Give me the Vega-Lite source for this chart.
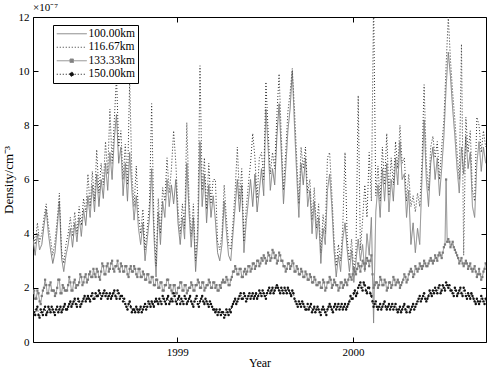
{
  "$schema": "https://vega.github.io/schema/vega-lite/v6.json",
  "width": 453,
  "height": 325,
  "autosize": {"type": "none"},
  "padding": {"left": 33, "top": 17, "right": 10, "bottom": 32},
  "background": "white",
  "config": {
    "view": {"stroke": "black", "strokeWidth": 1},
    "font": "Liberation Serif",
    "axis": {
      "labelFont": "Liberation Serif", "titleFont": "Liberation Serif",
      "labelColor": "black", "titleColor": "black", "tickColor": "black",
      "grid": false, "domain": false, "titleFontWeight": "normal",
      "labelFontSize": 11, "titleFontSize": 12, "tickSize": -5, "labelPadding": 9
    }
  },
  "title": {"text": "×10⁻⁷", "anchor": "start", "frame": "group", "font": "Liberation Serif", "fontSize": 11, "fontWeight": "normal", "color": "black", "offset": -2},
  "data": {"values": [
{"t":1998.18,"a":3.8,"b":4.1,"c":1.8,"d":1.2},
{"t":1998.1925,"a":3.2,"b":3.6,"c":1.6,"d":1.0},
{"t":1998.205,"a":4.0,"b":4.4,"c":1.9,"d":1.3},
{"t":1998.2175,"a":3.4,"b":3.7,"c":1.5,"d":0.9},
{"t":1998.23,"a":3.6,"b":4.0,"c":1.7,"d":1.1},
{"t":1998.2425,"a":4.3,"b":4.6,"c":2.0,"d":1.2},
{"t":1998.255,"a":4.9,"b":5.1,"c":2.1,"d":1.0},
{"t":1998.2675,"a":4.0,"b":4.3,"c":1.8,"d":1.3},
{"t":1998.28,"a":3.4,"b":3.8,"c":2.2,"d":1.1},
{"t":1998.2925,"a":2.9,"b":3.2,"c":1.9,"d":1.2},
{"t":1998.305,"a":3.3,"b":3.7,"c":1.7,"d":1.0},
{"t":1998.3175,"a":4.2,"b":4.5,"c":2.0,"d":1.3},
{"t":1998.33,"a":5.2,"b":5.5,"c":2.3,"d":1.2},
{"t":1998.3425,"a":3.1,"b":3.4,"c":1.8,"d":1.1},
{"t":1998.355,"a":2.6,"b":2.9,"c":2.0,"d":1.3},
{"t":1998.3675,"a":3.2,"b":3.6,"c":1.9,"d":1.2},
{"t":1998.38,"a":3.6,"b":4.0,"c":2.1,"d":1.3},
{"t":1998.3925,"a":4.2,"b":4.6,"c":2.2,"d":1.5},
{"t":1998.405,"a":3.5,"b":3.9,"c":1.9,"d":1.4},
{"t":1998.4175,"a":4.4,"b":4.8,"c":2.3,"d":1.6},
{"t":1998.43,"a":3.7,"b":4.0,"c":2.1,"d":1.3},
{"t":1998.4425,"a":4.6,"b":5.0,"c":2.2,"d":1.5},
{"t":1998.455,"a":3.9,"b":4.3,"c":2.4,"d":1.4},
{"t":1998.4675,"a":4.9,"b":5.3,"c":2.2,"d":1.6},
{"t":1998.48,"a":4.3,"b":4.8,"c":2.5,"d":1.5},
{"t":1998.4925,"a":5.4,"b":6.2,"c":2.3,"d":1.7},
{"t":1998.505,"a":4.6,"b":5.0,"c":2.6,"d":1.5},
{"t":1998.5175,"a":5.8,"b":6.3,"c":2.4,"d":1.8},
{"t":1998.53,"a":4.8,"b":5.2,"c":2.5,"d":1.6},
{"t":1998.5425,"a":6.2,"b":7.1,"c":2.7,"d":1.7},
{"t":1998.555,"a":5.0,"b":5.5,"c":2.4,"d":1.9},
{"t":1998.5675,"a":6.0,"b":6.6,"c":2.6,"d":1.6},
{"t":1998.58,"a":5.3,"b":5.8,"c":2.8,"d":1.8},
{"t":1998.5925,"a":6.6,"b":7.4,"c":2.5,"d":1.7},
{"t":1998.605,"a":5.6,"b":6.2,"c":2.9,"d":1.6},
{"t":1998.6175,"a":7.0,"b":8.6,"c":2.7,"d":1.8},
{"t":1998.63,"a":6.0,"b":6.6,"c":3.0,"d":1.7},
{"t":1998.6425,"a":7.5,"b":8.2,"c":2.6,"d":1.9},
{"t":1998.655,"a":8.4,"b":9.8,"c":2.8,"d":1.6},
{"t":1998.6675,"a":6.6,"b":7.2,"c":2.7,"d":1.8},
{"t":1998.68,"a":7.2,"b":7.8,"c":2.9,"d":1.7},
{"t":1998.6925,"a":5.4,"b":6.0,"c":2.6,"d":1.5},
{"t":1998.705,"a":6.6,"b":7.3,"c":2.8,"d":1.4},
{"t":1998.7175,"a":5.2,"b":5.8,"c":2.5,"d":1.2},
{"t":1998.73,"a":7.0,"b":9.7,"c":2.7,"d":1.5},
{"t":1998.7425,"a":5.6,"b":6.2,"c":2.6,"d":1.1},
{"t":1998.755,"a":4.5,"b":5.0,"c":2.8,"d":1.2},
{"t":1998.7675,"a":5.4,"b":6.5,"c":2.5,"d":1.3},
{"t":1998.78,"a":4.2,"b":4.7,"c":2.7,"d":1.1},
{"t":1998.7925,"a":3.6,"b":4.0,"c":2.4,"d":1.3},
{"t":1998.805,"a":4.4,"b":4.9,"c":2.6,"d":1.2},
{"t":1998.8175,"a":3.0,"b":3.4,"c":2.3,"d":1.4},
{"t":1998.83,"a":3.8,"b":4.2,"c":2.5,"d":1.3},
{"t":1998.8425,"a":4.6,"b":5.1,"c":2.2,"d":1.4},
{"t":1998.855,"a":6.4,"b":8.8,"c":2.4,"d":1.5},
{"t":1998.8675,"a":4.0,"b":4.5,"c":2.1,"d":1.3},
{"t":1998.88,"a":2.4,"b":2.8,"c":2.3,"d":1.6},
{"t":1998.8925,"a":4.8,"b":5.3,"c":2.0,"d":1.4},
{"t":1998.905,"a":3.6,"b":4.0,"c":2.2,"d":1.5},
{"t":1998.9175,"a":5.2,"b":5.7,"c":1.9,"d":1.7},
{"t":1998.93,"a":4.6,"b":5.2,"c":2.1,"d":1.5},
{"t":1998.9425,"a":6.0,"b":6.8,"c":2.3,"d":1.6},
{"t":1998.955,"a":5.0,"b":5.5,"c":2.0,"d":1.4},
{"t":1998.9675,"a":5.8,"b":6.4,"c":1.9,"d":1.6},
{"t":1998.98,"a":5.1,"b":7.8,"c":2.1,"d":1.8},
{"t":1998.9925,"a":6.0,"b":6.6,"c":1.8,"d":1.5},
{"t":1999.005,"a":4.4,"b":4.9,"c":2.0,"d":1.6},
{"t":1999.0175,"a":3.6,"b":4.0,"c":2.2,"d":1.4},
{"t":1999.03,"a":4.6,"b":5.1,"c":1.9,"d":1.5},
{"t":1999.0425,"a":3.8,"b":4.2,"c":2.1,"d":1.7},
{"t":1999.055,"a":6.6,"b":8.1,"c":1.8,"d":1.4},
{"t":1999.0675,"a":4.8,"b":5.3,"c":2.0,"d":1.6},
{"t":1999.08,"a":3.5,"b":3.9,"c":2.2,"d":1.5},
{"t":1999.0925,"a":4.6,"b":5.1,"c":1.9,"d":1.3},
{"t":1999.105,"a":2.6,"b":3.0,"c":2.1,"d":1.6},
{"t":1999.1175,"a":3.8,"b":4.3,"c":2.3,"d":1.4},
{"t":1999.13,"a":7.4,"b":10.2,"c":2.0,"d":1.5},
{"t":1999.1425,"a":5.0,"b":5.6,"c":2.2,"d":1.7},
{"t":1999.155,"a":6.2,"b":6.8,"c":1.9,"d":1.4},
{"t":1999.1675,"a":4.4,"b":4.9,"c":2.1,"d":1.5},
{"t":1999.18,"a":5.8,"b":6.6,"c":2.3,"d":1.3},
{"t":1999.1925,"a":4.6,"b":5.1,"c":2.0,"d":1.4},
{"t":1999.205,"a":5.4,"b":6.0,"c":2.2,"d":1.2},
{"t":1999.2175,"a":4.5,"b":6.0,"c":2.0,"d":1.1},
{"t":1999.23,"a":3.3,"b":3.7,"c":1.9,"d":1.0},
{"t":1999.2425,"a":3.0,"b":3.4,"c":2.1,"d":1.2},
{"t":1999.255,"a":3.6,"b":4.0,"c":2.2,"d":1.1},
{"t":1999.2675,"a":5.2,"b":5.8,"c":2.2,"d":0.9},
{"t":1999.28,"a":4.1,"b":4.6,"c":2.4,"d":1.2},
{"t":1999.2925,"a":3.2,"b":3.6,"c":2.1,"d":1.0},
{"t":1999.305,"a":3.0,"b":3.4,"c":2.3,"d":1.1},
{"t":1999.3175,"a":4.0,"b":4.4,"c":2.6,"d":1.4},
{"t":1999.33,"a":5.0,"b":5.6,"c":2.8,"d":1.6},
{"t":1999.3425,"a":6.0,"b":7.2,"c":2.5,"d":1.5},
{"t":1999.355,"a":4.8,"b":5.3,"c":2.7,"d":1.7},
{"t":1999.3675,"a":5.8,"b":6.4,"c":2.4,"d":1.6},
{"t":1999.38,"a":3.3,"b":3.7,"c":2.6,"d":1.8},
{"t":1999.3925,"a":4.4,"b":4.9,"c":2.5,"d":1.5},
{"t":1999.405,"a":5.2,"b":5.8,"c":2.8,"d":1.7},
{"t":1999.4175,"a":6.0,"b":6.6,"c":2.6,"d":1.6},
{"t":1999.43,"a":5.0,"b":7.7,"c":2.9,"d":1.8},
{"t":1999.4425,"a":6.2,"b":6.8,"c":2.7,"d":1.7},
{"t":1999.455,"a":4.8,"b":5.3,"c":3.0,"d":1.6},
{"t":1999.4675,"a":5.6,"b":6.8,"c":2.8,"d":1.9},
{"t":1999.48,"a":6.4,"b":7.0,"c":3.1,"d":1.7},
{"t":1999.4925,"a":5.4,"b":6.0,"c":3.2,"d":1.8},
{"t":1999.505,"a":8.6,"b":9.6,"c":2.9,"d":1.6},
{"t":1999.5175,"a":7.2,"b":7.8,"c":3.3,"d":1.9},
{"t":1999.53,"a":5.6,"b":6.2,"c":3.0,"d":1.8},
{"t":1999.5425,"a":6.4,"b":7.0,"c":3.4,"d":2.0},
{"t":1999.555,"a":5.8,"b":6.4,"c":3.1,"d":1.9},
{"t":1999.5675,"a":7.6,"b":8.4,"c":2.9,"d":2.1},
{"t":1999.58,"a":8.8,"b":9.9,"c":3.3,"d":1.9},
{"t":1999.5925,"a":7.0,"b":7.6,"c":3.0,"d":2.0},
{"t":1999.605,"a":5.1,"b":5.6,"c":2.8,"d":1.8},
{"t":1999.6175,"a":6.4,"b":7.0,"c":2.6,"d":1.9},
{"t":1999.63,"a":7.8,"b":8.5,"c":2.9,"d":2.0},
{"t":1999.6425,"a":8.6,"b":9.2,"c":2.7,"d":1.8},
{"t":1999.655,"a":10.0,"b":10.1,"c":3.0,"d":1.9},
{"t":1999.6675,"a":8.0,"b":8.6,"c":2.6,"d":1.6},
{"t":1999.68,"a":6.2,"b":6.8,"c":2.8,"d":1.4},
{"t":1999.6925,"a":4.6,"b":5.1,"c":2.5,"d":1.5},
{"t":1999.705,"a":6.6,"b":7.2,"c":2.7,"d":1.3},
{"t":1999.7175,"a":5.8,"b":6.4,"c":2.4,"d":1.4},
{"t":1999.73,"a":6.8,"b":7.2,"c":2.6,"d":1.2},
{"t":1999.7425,"a":5.0,"b":5.5,"c":2.3,"d":1.4},
{"t":1999.755,"a":5.6,"b":6.0,"c":2.5,"d":1.3},
{"t":1999.7675,"a":4.0,"b":4.5,"c":2.2,"d":1.1},
{"t":1999.78,"a":5.2,"b":5.7,"c":2.4,"d":1.3},
{"t":1999.7925,"a":3.8,"b":4.2,"c":2.1,"d":1.2},
{"t":1999.805,"a":4.6,"b":5.1,"c":2.2,"d":1.2},
{"t":1999.8175,"a":2.9,"b":3.3,"c":2.0,"d":1.0},
{"t":1999.83,"a":4.2,"b":4.7,"c":2.3,"d":1.3},
{"t":1999.8425,"a":3.6,"b":4.0,"c":1.9,"d":1.1},
{"t":1999.855,"a":5.6,"b":6.8,"c":2.2,"d":1.2},
{"t":1999.8675,"a":6.2,"b":7.0,"c":2.4,"d":1.4},
{"t":1999.88,"a":5.0,"b":5.5,"c":2.0,"d":1.2},
{"t":1999.8925,"a":3.4,"b":3.8,"c":2.3,"d":1.3},
{"t":1999.905,"a":2.4,"b":2.8,"c":2.1,"d":1.2},
{"t":1999.9175,"a":3.2,"b":3.6,"c":1.9,"d":1.4},
{"t":1999.93,"a":2.6,"b":3.0,"c":2.2,"d":1.3},
{"t":1999.9425,"a":3.8,"b":4.3,"c":2.0,"d":1.2},
{"t":1999.955,"a":4.4,"b":7.0,"c":2.3,"d":1.4},
{"t":1999.9675,"a":3.4,"b":3.8,"c":2.1,"d":1.3},
{"t":1999.98,"a":2.6,"b":3.0,"c":2.5,"d":1.5},
{"t":1999.9925,"a":3.4,"b":3.8,"c":2.3,"d":1.6},
{"t":2000.005,"a":2.2,"b":2.6,"c":2.7,"d":1.8},
{"t":2000.0175,"a":3.0,"b":3.4,"c":2.5,"d":1.7},
{"t":2000.03,"a":3.8,"b":9.1,"c":2.9,"d":2.0},
{"t":2000.0425,"a":3.0,"b":3.4,"c":2.6,"d":2.2},
{"t":2000.055,"a":3.6,"b":4.5,"c":3.0,"d":1.9},
{"t":2000.0675,"a":2.6,"b":5.8,"c":2.7,"d":2.1},
{"t":2000.08,"a":4.0,"b":4.6,"c":3.1,"d":1.8},
{"t":2000.0925,"a":3.2,"b":7.0,"c":2.8,"d":2.0},
{"t":2000.105,"a":4.6,"b":5.2,"c":3.2,"d":1.7},
{"t":2000.1175,"a":0.7,"b":12.6,"c":2.0,"d":1.3},
{"t":2000.13,"a":4.8,"b":5.4,"c":2.2,"d":1.5},
{"t":2000.1425,"a":5.8,"b":6.5,"c":2.0,"d":1.2},
{"t":2000.155,"a":4.6,"b":5.2,"c":2.4,"d":1.4},
{"t":2000.1675,"a":6.4,"b":7.2,"c":2.1,"d":1.3},
{"t":2000.18,"a":5.2,"b":5.8,"c":2.3,"d":1.5},
{"t":2000.1925,"a":6.6,"b":7.7,"c":1.9,"d":1.2},
{"t":2000.205,"a":4.8,"b":5.4,"c":2.2,"d":1.4},
{"t":2000.2175,"a":6.0,"b":6.8,"c":2.0,"d":1.3},
{"t":2000.23,"a":5.2,"b":5.8,"c":2.4,"d":1.2},
{"t":2000.2425,"a":6.8,"b":7.4,"c":2.1,"d":1.4},
{"t":2000.255,"a":5.8,"b":6.4,"c":2.3,"d":1.1},
{"t":2000.2675,"a":7.4,"b":8.0,"c":2.0,"d":1.3},
{"t":2000.28,"a":6.0,"b":6.6,"c":2.2,"d":1.2},
{"t":2000.2925,"a":6.2,"b":6.8,"c":2.5,"d":1.4},
{"t":2000.305,"a":4.6,"b":5.2,"c":2.2,"d":1.1},
{"t":2000.3175,"a":5.6,"b":6.2,"c":2.5,"d":1.3},
{"t":2000.33,"a":3.6,"b":5.0,"c":2.7,"d":1.2},
{"t":2000.3425,"a":4.4,"b":5.4,"c":2.4,"d":1.4},
{"t":2000.355,"a":3.3,"b":4.8,"c":2.8,"d":1.3},
{"t":2000.3675,"a":4.2,"b":5.5,"c":2.6,"d":1.5},
{"t":2000.38,"a":3.6,"b":5.0,"c":2.9,"d":1.7},
{"t":2000.3925,"a":6.0,"b":6.6,"c":2.7,"d":1.6},
{"t":2000.405,"a":8.2,"b":9.5,"c":3.0,"d":1.8},
{"t":2000.4175,"a":6.0,"b":6.6,"c":2.8,"d":1.5},
{"t":2000.43,"a":5.0,"b":5.6,"c":2.9,"d":1.7},
{"t":2000.4425,"a":6.6,"b":7.2,"c":3.1,"d":1.8},
{"t":2000.455,"a":7.2,"b":7.6,"c":2.9,"d":1.9},
{"t":2000.4675,"a":6.0,"b":6.8,"c":3.2,"d":2.0},
{"t":2000.48,"a":6.8,"b":7.4,"c":3.0,"d":1.8},
{"t":2000.4925,"a":5.4,"b":6.0,"c":3.3,"d":2.1},
{"t":2000.505,"a":6.4,"b":7.2,"c":3.1,"d":1.9},
{"t":2000.5175,"a":7.6,"b":8.2,"c":3.5,"d":2.0},
{"t":2000.53,"a":9.4,"b":10.2,"c":6.0,"d":2.2},
{"t":2000.5425,"a":10.7,"b":12.0,"c":3.8,"d":2.0},
{"t":2000.555,"a":9.8,"b":10.4,"c":3.5,"d":1.9},
{"t":2000.5675,"a":8.6,"b":9.2,"c":3.7,"d":1.8},
{"t":2000.58,"a":7.6,"b":8.2,"c":3.4,"d":2.0},
{"t":2000.5925,"a":6.4,"b":7.0,"c":3.2,"d":1.7},
{"t":2000.605,"a":5.5,"b":6.0,"c":2.9,"d":1.9},
{"t":2000.6175,"a":7.2,"b":11.0,"c":3.1,"d":1.8},
{"t":2000.63,"a":6.2,"b":3.2,"c":2.8,"d":2.0},
{"t":2000.6425,"a":7.6,"b":8.3,"c":3.0,"d":1.7},
{"t":2000.655,"a":6.4,"b":7.0,"c":2.7,"d":1.8},
{"t":2000.6675,"a":7.0,"b":7.8,"c":2.9,"d":1.6},
{"t":2000.68,"a":5.0,"b":5.6,"c":2.6,"d":1.7},
{"t":2000.6925,"a":4.6,"b":5.2,"c":2.8,"d":1.5},
{"t":2000.705,"a":6.6,"b":8.3,"c":2.4,"d":1.6},
{"t":2000.7175,"a":7.4,"b":8.0,"c":2.7,"d":1.4},
{"t":2000.73,"a":6.3,"b":7.0,"c":2.3,"d":1.7},
{"t":2000.7425,"a":7.2,"b":7.8,"c":2.6,"d":1.5},
{"t":2000.755,"a":6.6,"b":7.2,"c":2.9,"d":1.6},
{"t":1998.18625,"c":1.9,"d":1.1},
{"t":1998.19875,"c":1.6,"d":1.2},
{"t":1998.21125,"c":1.8,"d":1.0},
{"t":1998.22375,"c":1.4,"d":1.2},
{"t":1998.23625,"c":1.9,"d":1.0},
{"t":1998.24875,"c":2.3,"d":1.3},
{"t":1998.26125,"c":1.8,"d":1.1},
{"t":1998.27375,"c":2.1,"d":1.2},
{"t":1998.28625,"c":1.9,"d":1.3},
{"t":1998.29875,"c":1.9,"d":1.1},
{"t":1998.31125,"c":1.8,"d":1.2},
{"t":1998.32375,"c":2.3,"d":1.1},
{"t":1998.33625,"c":1.8,"d":1.3},
{"t":1998.34875,"c":2.1,"d":1.2},
{"t":1998.36125,"c":1.9,"d":1.4},
{"t":1998.37375,"c":1.9,"d":1.2},
{"t":1998.38625,"c":2.4,"d":1.4},
{"t":1998.39875,"c":1.9,"d":1.3},
{"t":1998.41125,"c":2.2,"d":1.5},
{"t":1998.42375,"c":2.0,"d":1.4},
{"t":1998.43625,"c":2.1,"d":1.6},
{"t":1998.44875,"c":2.5,"d":1.3},
{"t":1998.46125,"c":2.1,"d":1.5},
{"t":1998.47375,"c":2.4,"d":1.7},
{"t":1998.48625,"c":2.2,"d":1.6},
{"t":1998.49875,"c":2.5,"d":1.6},
{"t":1998.51125,"c":2.4,"d":1.7},
{"t":1998.52375,"c":2.7,"d":1.6},
{"t":1998.53625,"c":2.4,"d":1.8},
{"t":1998.54875,"c":2.6,"d":1.7},
{"t":1998.56125,"c":2.3,"d":1.8},
{"t":1998.57375,"c":2.9,"d":1.7},
{"t":1998.58625,"c":2.5,"d":1.9},
{"t":1998.59875,"c":2.8,"d":1.8},
{"t":1998.61125,"c":2.6,"d":1.7},
{"t":1998.62375,"c":2.9,"d":1.6},
{"t":1998.63625,"c":2.7,"d":1.8},
{"t":1998.64875,"c":2.8,"d":1.7},
{"t":1998.66125,"c":3.0,"d":1.9},
{"t":1998.67375,"c":2.6,"d":1.6},
{"t":1998.68625,"c":2.8,"d":1.7},
{"t":1998.69875,"c":2.6,"d":1.6},
{"t":1998.71125,"c":2.8,"d":1.3},
{"t":1998.72375,"c":2.4,"d":1.4},
{"t":1998.73625,"c":2.8,"d":1.3},
{"t":1998.74875,"c":2.6,"d":1.2},
{"t":1998.76125,"c":2.7,"d":1.1},
{"t":1998.77375,"c":2.4,"d":1.2},
{"t":1998.78625,"c":2.7,"d":1.2},
{"t":1998.79875,"c":2.4,"d":1.1},
{"t":1998.81125,"c":2.5,"d":1.3},
{"t":1998.82375,"c":2.3,"d":1.2},
{"t":1998.83625,"c":2.5,"d":1.5},
{"t":1998.84875,"c":2.2,"d":1.3},
{"t":1998.86125,"c":2.4,"d":1.4},
{"t":1998.87375,"c":2.1,"d":1.5},
{"t":1998.88625,"c":2.3,"d":1.5},
{"t":1998.89875,"c":2.0,"d":1.6},
{"t":1998.91125,"c":2.2,"d":1.4},
{"t":1998.92375,"c":1.9,"d":1.6},
{"t":1998.93625,"c":2.1,"d":1.4},
{"t":1998.94875,"c":2.3,"d":1.7},
{"t":1998.96125,"c":2.1,"d":1.5},
{"t":1998.97375,"c":1.8,"d":1.5},
{"t":1998.98625,"c":2.1,"d":1.7},
{"t":1998.99875,"c":1.8,"d":1.4},
{"t":1999.01125,"c":2.0,"d":1.7},
{"t":1999.02375,"c":2.2,"d":1.6},
{"t":1999.03625,"c":1.9,"d":1.4},
{"t":1999.04875,"c":2.1,"d":1.6},
{"t":1999.06125,"c":1.9,"d":1.5},
{"t":1999.07375,"c":2.0,"d":1.7},
{"t":1999.08625,"c":2.1,"d":1.4},
{"t":1999.09875,"c":1.9,"d":1.5},
{"t":1999.11125,"c":2.1,"d":1.7},
{"t":1999.12375,"c":2.2,"d":1.3},
{"t":1999.13625,"c":2.0,"d":1.6},
{"t":1999.14875,"c":2.2,"d":1.5},
{"t":1999.16125,"c":2.0,"d":1.6},
{"t":1999.17375,"c":2.1,"d":1.4},
{"t":1999.18625,"c":2.2,"d":1.5},
{"t":1999.19875,"c":2.0,"d":1.3},
{"t":1999.21125,"c":2.2,"d":1.2},
{"t":1999.22375,"c":2.1,"d":1.2},
{"t":1999.23625,"c":1.9,"d":1.1},
{"t":1999.24875,"c":2.0,"d":1.0},
{"t":1999.26125,"c":2.3,"d":1.1},
{"t":1999.27375,"c":2.2,"d":1.0},
{"t":1999.28625,"c":2.3,"d":1.1},
{"t":1999.29875,"c":2.1,"d":1.2},
{"t":1999.31125,"c":2.4,"d":1.3},
{"t":1999.32375,"c":2.6,"d":1.5},
{"t":1999.33625,"c":2.7,"d":1.4},
{"t":1999.34875,"c":2.5,"d":1.6},
{"t":1999.36125,"c":2.7,"d":1.8},
{"t":1999.37375,"c":2.4,"d":1.6},
{"t":1999.38625,"c":2.7,"d":1.7},
{"t":1999.39875,"c":2.6,"d":1.6},
{"t":1999.41125,"c":2.8,"d":1.8},
{"t":1999.42375,"c":2.7,"d":1.7},
{"t":1999.43625,"c":2.9,"d":1.6},
{"t":1999.44875,"c":2.8,"d":1.8},
{"t":1999.46125,"c":3.0,"d":1.7},
{"t":1999.47375,"c":2.9,"d":1.8},
{"t":1999.48625,"c":3.0,"d":1.9},
{"t":1999.49875,"c":3.1,"d":1.7},
{"t":1999.51125,"c":3.0,"d":1.8},
{"t":1999.52375,"c":3.2,"d":2.0},
{"t":1999.53625,"c":3.1,"d":1.9},
{"t":1999.54875,"c":3.3,"d":1.8},
{"t":1999.56125,"c":3.2,"d":2.0},
{"t":1999.57375,"c":3.0,"d":2.0},
{"t":1999.58625,"c":3.2,"d":1.8},
{"t":1999.59875,"c":3.0,"d":1.9},
{"t":1999.61125,"c":2.8,"d":2.0},
{"t":1999.62375,"c":2.7,"d":1.8},
{"t":1999.63625,"c":2.9,"d":1.9},
{"t":1999.64875,"c":2.8,"d":1.7},
{"t":1999.66125,"c":2.9,"d":1.8},
{"t":1999.67375,"c":2.6,"d":1.5},
{"t":1999.68625,"c":2.7,"d":1.3},
{"t":1999.69875,"c":2.5,"d":1.4},
{"t":1999.71125,"c":2.6,"d":1.5},
{"t":1999.72375,"c":2.4,"d":1.3},
{"t":1999.73625,"c":2.5,"d":1.2},
{"t":1999.74875,"c":2.3,"d":1.2},
{"t":1999.76125,"c":2.4,"d":1.4},
{"t":1999.77375,"c":2.2,"d":1.2},
{"t":1999.78625,"c":2.3,"d":1.1},
{"t":1999.79875,"c":2.1,"d":1.3},
{"t":1999.81125,"c":2.2,"d":1.1},
{"t":1999.82375,"c":2.0,"d":1.2},
{"t":1999.83625,"c":2.2,"d":1.2},
{"t":1999.84875,"c":2.0,"d":1.0},
{"t":1999.86125,"c":2.2,"d":1.3},
{"t":1999.87375,"c":2.3,"d":1.3},
{"t":1999.88625,"c":2.1,"d":1.1},
{"t":1999.89875,"c":2.2,"d":1.4},
{"t":1999.91125,"c":2.1,"d":1.3},
{"t":1999.92375,"c":2.0,"d":1.2},
{"t":1999.93625,"c":2.2,"d":1.4},
{"t":1999.94875,"c":2.1,"d":1.3},
{"t":1999.96125,"c":2.2,"d":1.2},
{"t":1999.97375,"c":2.3,"d":1.4},
{"t":1999.98625,"c":2.4,"d":1.7},
{"t":1999.99875,"c":2.5,"d":1.6},
{"t":2000.01125,"c":2.6,"d":1.9},
{"t":2000.02375,"c":2.7,"d":1.8},
{"t":2000.03625,"c":2.8,"d":2.1},
{"t":2000.04875,"c":2.8,"d":2.0},
{"t":2000.06125,"c":2.9,"d":2.2},
{"t":2000.07375,"c":2.9,"d":1.9},
{"t":2000.08625,"c":3.0,"d":2.0},
{"t":2000.09875,"c":3.0,"d":1.8},
{"t":2000.11125,"c":2.5,"d":1.5},
{"t":2000.12375,"c":2.1,"d":1.4},
{"t":2000.13625,"c":2.2,"d":1.3},
{"t":2000.14875,"c":2.1,"d":1.3},
{"t":2000.16125,"c":2.3,"d":1.2},
{"t":2000.17375,"c":2.1,"d":1.4},
{"t":2000.18625,"c":2.2,"d":1.3},
{"t":2000.19875,"c":2.0,"d":1.3},
{"t":2000.21125,"c":2.2,"d":1.2},
{"t":2000.22375,"c":2.1,"d":1.4},
{"t":2000.23625,"c":2.3,"d":1.3},
{"t":2000.24875,"c":2.2,"d":1.2},
{"t":2000.26125,"c":2.2,"d":1.2},
{"t":2000.27375,"c":2.1,"d":1.1},
{"t":2000.28625,"c":2.3,"d":1.3},
{"t":2000.29875,"c":2.4,"d":1.2},
{"t":2000.31125,"c":2.3,"d":1.3},
{"t":2000.32375,"c":2.6,"d":1.1},
{"t":2000.33625,"c":2.6,"d":1.3},
{"t":2000.34875,"c":2.5,"d":1.2},
{"t":2000.36125,"c":2.7,"d":1.4},
{"t":2000.37375,"c":2.7,"d":1.6},
{"t":2000.38625,"c":2.8,"d":1.5},
{"t":2000.39875,"c":2.8,"d":1.7},
{"t":2000.41125,"c":2.9,"d":1.6},
{"t":2000.42375,"c":2.8,"d":1.6},
{"t":2000.43625,"c":3.0,"d":1.9},
{"t":2000.44875,"c":3.0,"d":1.7},
{"t":2000.46125,"c":3.0,"d":1.8},
{"t":2000.47375,"c":3.1,"d":1.9},
{"t":2000.48625,"c":3.2,"d":2.0},
{"t":2000.49875,"c":3.2,"d":1.8},
{"t":2000.51125,"c":3.3,"d":2.1},
{"t":2000.52375,"c":3.6,"d":1.9},
{"t":2000.53625,"c":3.7,"d":2.1},
{"t":2000.54875,"c":3.7,"d":2.1},
{"t":2000.56125,"c":3.6,"d":1.9},
{"t":2000.57375,"c":3.5,"d":1.7},
{"t":2000.58625,"c":3.3,"d":1.9},
{"t":2000.59875,"c":3.1,"d":1.8},
{"t":2000.61125,"c":3.0,"d":2.0},
{"t":2000.62375,"c":2.9,"d":1.7},
{"t":2000.63625,"c":2.9,"d":1.9},
{"t":2000.64875,"c":2.9,"d":1.6},
{"t":2000.66125,"c":2.8,"d":1.7},
{"t":2000.67375,"c":2.7,"d":1.8},
{"t":2000.68625,"c":2.7,"d":1.6},
{"t":2000.69875,"c":2.6,"d":1.4},
{"t":2000.71125,"c":2.5,"d":1.5},
{"t":2000.72375,"c":2.5,"d":1.5},
{"t":2000.73625,"c":2.4,"d":1.6},
{"t":2000.74875,"c":2.7,"d":1.4}
  ]},
  "transform": [
    {"fold": ["a", "b", "c", "d"], "as": ["k", "v"]},
    {"filter": "isValid(datum.v)"}
  ],
  "resolve": {"axis": {"x": "independent", "y": "independent"}},
  "layer": [
    {
      "mark": {"type": "line", "strokeWidth": 1, "clip": true},
      "encoding": {
        "x": {"field": "t", "type": "quantitative", "scale": {"domain": [1998.18, 2000.757], "nice": false, "zero": false},
              "axis": {"orient": "bottom", "values": [1999, 2000], "format": "d", "title": "Year", "titlePadding": 0}},
        "y": {"field": "v", "type": "quantitative", "scale": {"domain": [0, 12], "nice": false},
              "axis": {"orient": "left", "values": [0, 2, 4, 6, 8, 10, 12], "title": "Density/cm⁻³", "titleFontSize": 13, "titlePadding": 3}},
        "color": {"field": "k", "type": "nominal",
          "scale": {"domain": ["a", "b", "c", "d"], "range": ["#808080", "#333333", "#8c8c8c", "#111111"]},
          "legend": {
            "title": null, "orient": "none", "legendX": 20, "legendY": 8,
            "strokeColor": "black", "fillColor": "white", "padding": 3,
            "symbolSize": 100, "symbolStrokeWidth": 1,
            "labelFont": "Liberation Serif", "labelFontSize": 11.5, "labelColor": "black",
            "labelOffset": 21, "rowPadding": 0.5,
            "labelExpr": "{'a':'100.00km','b':'116.67km','c':'133.33km','d':'150.00km'}[datum.value]",
            "encode": {"symbols": {"update": {
              "shape": {"signal": "datum.value==='c' ? 'M-1,0H5M1.65,-0.35H2.35V0.35H1.65Z' : datum.value==='d' ? 'M-1,0H5M2.4,0A0.4,0.4 0 1,1 1.6,0A0.4,0.4 0 1,1 2.4,0Z' : 'M-1,0H5'"},
              "strokeDash": {"signal": "(datum.value==='b' || datum.value==='d') ? [1,2] : [1,0]"},
              "fill": {"signal": "datum.value==='c' ? '#7a7a7a' : datum.value==='d' ? '#111111' : 'transparent'"},
              "fillOpacity": {"value": 1}
            }}}
          }},
        "strokeDash": {"field": "k", "type": "nominal", "scale": {"domain": ["a", "b", "c", "d"], "range": [[1, 0], [1, 2], [1, 0], [1, 2]]}, "legend": null}
      }
    },
    {
      "transform": [{"filter": "datum.k === 'c'"}],
      "mark": {"type": "square", "size": 5, "color": "#7a7a7a", "opacity": 1, "clip": true},
      "encoding": {
        "x": {"field": "t", "type": "quantitative", "scale": {"domain": [1998.18, 2000.757], "nice": false, "zero": false},
              "axis": {"orient": "top", "values": [1999, 2000], "labels": false, "title": null}},
        "y": {"field": "v", "type": "quantitative", "scale": {"domain": [0, 12], "nice": false},
              "axis": {"orient": "right", "values": [0, 2, 4, 6, 8, 10, 12], "labels": false, "title": null}}
      }
    },
    {
      "transform": [{"filter": "datum.k === 'd'"}],
      "mark": {"type": "circle", "size": 6, "color": "#111111", "opacity": 1, "clip": true},
      "encoding": {
        "x": {"field": "t", "type": "quantitative", "scale": {"domain": [1998.18, 2000.757], "nice": false, "zero": false}, "axis": null},
        "y": {"field": "v", "type": "quantitative", "scale": {"domain": [0, 12], "nice": false}, "axis": null}
      }
    }
  ]
}
